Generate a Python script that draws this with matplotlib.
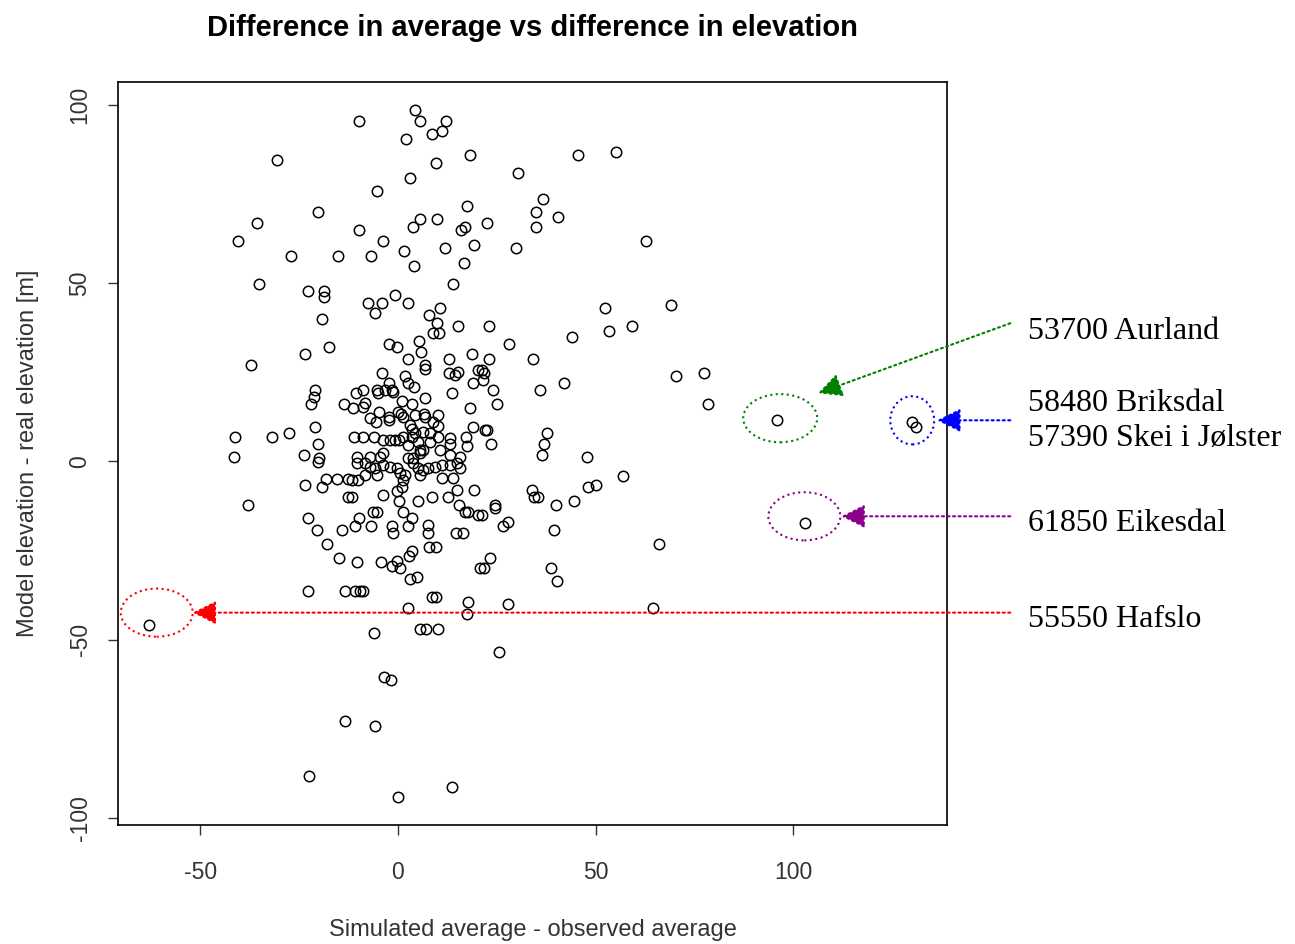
import matplotlib
matplotlib.use("Agg")
import matplotlib.pyplot as plt
from matplotlib.patches import Ellipse

#####################################################################################
## data: simulated - observed average (x) vs model - real elevation (y)

sim_diff = [
    4.3, 5.6, 12.2, -9.9, 11.1, 8.6, 2.0, -30.6, 18.2, 45.6, 55.2, 9.6, 3.0, 30.4, -5.3,
    36.7, 17.5, 34.9, -20.3, 40.5, 5.6, 9.9, 22.5, -35.7, 17.0, 15.9, 3.8, 34.9, -9.9, -40.5,
    -3.8, 62.8, 1.5, 11.9, 19.2, 29.9, -27.1, -15.2, -6.8, 16.7, 4.1, 13.9, -35.2,
    -22.8, -18.7, -18.7, -19.2, -17.5, -23.5, -37.2, -21.0, -21.3, -22.0, -13.7, -21.0, -41.3,
    -31.9, -27.6, -20.3, -41.5, -23.8, -20.0,
    -0.8, -7.6, -4.1, 2.5, -5.8, 10.6, 7.8, 9.9, 8.9, 10.4, 15.2, 5.3, -2.3, -0.3, 5.8, 2.5,
    6.8, 6.8, 12.9, 18.7, -4.1, 1.8, 12.9, 14.4, 15.2, 19.0, 20.3, 2.5, 4.1, -2.3, -10.6, -8.9,
    -5.3, -5.1, -3.3, -1.5, -1.3, 6.8, 13.7, -8.4, -8.9, -11.4, 1.0, 3.5, -7.1, -5.6, -4.8,
    -2.3, -2.3, 0.0, 0.8, 1.3, 4.3, 6.6, 6.8, 10.1, 18.2, 8.9, 10.1, 3.0, 3.5, 3.5, 4.3, 6.3,
    8.1, 19.0, -11.1, -8.9, -6.1, -3.8, -2.0, -0.8, 0.3, 1.3, 2.5, 5.1, 5.6, 6.3, 5.6, 8.1,
    10.1, 13.2, 13.2, 17.2, 17.5, 10.6, -3.8, -10.4, -7.1, -4.6, 2.5, 3.8, 13.2, 15.7,
    23.0, 28.1, 23.0, 21.3, 21.8, 21.5, 24.1, 25.1, 34.2, 35.9, 42.0, 44.1, 52.4, 53.4, 59.2,
    69.1, 70.4, 77.5, 78.5, 22.0, 22.5, 23.5, 37.7, 37.0, 36.5, 47.8,
    -23.5, -19.2, -18.2, -15.4, -12.7, -12.7, -38.0, -22.8, -20.5, -18.0, -14.9, -14.2, -22.8,
    -13.4, -20.3,
    -10.4, -8.4, -7.1, -5.8, -8.4, -5.3, -3.8, -2.0, -0.3, 0.5, 1.8, 3.8, 5.1, 5.6, 6.3, 7.6,
    9.4, 11.1, 13.2, 14.9, 15.7, 11.1, 13.9, -11.6, -10.1, 1.3, -11.6, -3.8, 0.3, -0.3, 1.0,
    5.1, 8.6, 12.7, 14.9, 19.2, 15.4, 17.0, 17.7, 20.3, -6.3, -5.3, -9.9, -10.9, -6.8, -1.5,
    -1.3, 1.3, 2.5, 3.5, 7.6, 7.6, 14.7, 16.5, 7.8, 9.6, 3.5, 2.8, -10.4, -4.3, -1.5, -0.3,
    0.5, 3.0, 4.8, 20.8, -10.9, -9.6, -8.9, 8.6, 9.6, 17.7, 2.5, 17.5, -6.1, 5.6, 7.1, 10.1,
    21.3, 24.6, 24.6, 26.6, 27.8, 33.9, 34.4, 35.4, 40.0, 39.5, 44.6, 48.1, 50.1, 57.0, 66.1,
    23.3, 21.8, 38.7, 40.3, 27.8, 64.6,
    25.6, -3.5, -1.8, -13.4, -5.8, -22.5, 0.0, 13.7,
]
elev_diff = [
    98.5, 95.4, 95.4, 95.4, 92.6, 91.7, 90.2, 84.4, 85.8, 85.8, 86.7, 83.6, 79.4, 80.8, 75.7,
    73.5, 71.5, 69.8, 69.8, 68.4, 67.9, 67.9, 66.8, 66.8, 65.6, 64.8, 65.6, 65.6, 64.8, 61.7,
    61.7, 61.7, 58.9, 59.7, 60.6, 59.7, 57.5, 57.5, 57.5, 55.5, 54.7, 49.6, 49.6,
    47.7, 47.7, 46.0, 39.8, 32.0, 30.0, 26.9, 19.9, 18.0, 16.0, 16.0, 9.5, 6.7,
    6.7, 7.9, 5.0, 1.1, 1.7, 0.8,
    46.6, 44.3, 44.3, 44.3, 41.5, 42.9, 41.0, 38.7, 35.9, 35.9, 37.9, 33.7, 32.8, 32.0, 30.6, 28.6,
    26.9, 25.8, 28.6, 30.0, 24.7, 23.8, 24.7, 24.1, 25.0, 21.9, 25.5, 21.9, 20.8, 21.9, 19.1, 19.9,
    19.9, 19.1, 19.9, 19.9, 19.4, 17.7, 19.1, 16.3, 15.1, 14.9, 16.8, 16.0, 12.1, 10.9, 13.7,
    12.3, 11.5, 13.7, 13.2, 12.3, 12.9, 13.2, 12.3, 12.9, 14.9, 10.9, 9.8, 10.1, 9.0, 6.7, 7.9, 8.1,
    7.9, 9.5, 6.7, 6.7, 6.7, 5.9, 5.9, 5.9, 5.9, 6.7, 4.5, 5.3, 3.1, 3.1, 2.2, 5.3,
    6.7, 6.5, 5.0, 6.7, 4.2, 3.1, 2.2, 1.1, 1.1, 1.1, 0.8, 0.8, 1.7, 1.1,
    37.9, 32.8, 28.6, 25.5, 24.7, 22.7, 19.9, 16.0, 28.6, 19.9, 21.9, 34.8, 42.9, 36.5, 37.9,
    43.8, 23.8, 24.7, 16.0, 8.7, 8.7, 5.0, 7.9, 5.0, 1.7, 1.1,
    -6.5, -7.3, -5.0, -5.0, -5.0, -10.1, -12.3, -16.0, -19.1, -23.3, -27.2, -19.1, -36.2,
    -36.2, -0.3,
    -0.6, -0.6, -1.7, -2.0, -3.9, -3.9, -1.1, -1.7, -2.0, -3.4, -3.9, -0.6, -2.0, -3.9, -2.5, -2.0,
    -1.7, -1.1, -1.1, -0.6, -2.0, -4.8, -4.8, -5.3, -5.3, -5.3, -10.1, -9.3, -11.2, -8.4, -7.3,
    -11.2, -10.1, -10.1, -8.1, -8.1, -12.1, -14.3, -14.3, -15.1, -14.3, -14.3, -16.0, -18.2, -18.2, -18.0,
    -20.2, -14.3, -18.2, -16.0, -17.7, -20.2, -20.2, -20.2, -24.1, -24.1, -25.0, -26.4, -28.1, -28.3, -29.2, -27.8,
    -30.0, -33.1, -32.3, -30.0, -36.2, -36.2, -36.2, -37.9, -37.9, -39.3, -41.2, -42.9, -48.0, -47.1, -47.1, -47.1,
    -14.9, -12.1, -13.2, -18.2, -17.1, -7.9, -10.1, -10.1, -12.3, -19.1, -11.2, -7.3, -6.5, -4.2, -23.3,
    -27.2, -30.0, -30.0, -33.4, -40.1, -41.2,
    -53.3, -60.3, -61.2, -72.9, -74.3, -88.1, -94.0, -91.2,
]

# stations singled out on the plot
station_labels = ["53700 Aurland", "58480 Briksdal\n57390 Skei i J\u00f8lster",
                  "61850 Eikesdal", "55550 Hafslo"]
station_x = [96.0, 130.1, 131.1, 103.0, -63.0]
station_y = [11.5, 10.9, 9.5, -17.4, -46.0]

#####################################################################################
## plot

plt.rcParams['font.family'] = ['Liberation Sans', 'DejaVu Sans']
plt.rcParams['axes.unicode_minus'] = False

fig = plt.figure(figsize=(12.95, 9.44), dpi=100)
ax = fig.add_axes([0.0911, 0.1261, 0.6402, 0.787])

ax.plot(sim_diff + station_x, elev_diff + station_y, 'o', ms=7.5, mfc='none',
        mec='black', mew=1.1, linestyle='none')

ax.set_xlim(-70.8, 138.9)
ax.set_ylim(-101.9, 106.3)
ax.set_xticks([-50, 0, 50, 100])
ax.set_yticks([-100, -50, 0, 50, 100])
ax.tick_params(direction='out', length=7, width=1, labelsize=16.5, color='#333333',
               labelcolor='#333333')
ax.tick_params(axis='x', pad=19)
ax.tick_params(axis='y', pad=12)
for lab in ax.get_yticklabels():
    lab.set_rotation(90)
    lab.set_va('center')
for s in ax.spines.values():
    s.set_linewidth(1.2)

ax.set_title("Difference in average vs difference in elevation", fontsize=21,
             fontweight='bold', pad=33, x=0.5)
ax.set_xlabel("Simulated average - observed average", fontsize=17, labelpad=25,
              color='#333333')
ax.set_ylabel("Model elevation - real elevation [m]", fontsize=17, labelpad=21,
              color='#333333')

## ellipses + arrows + labels
marks = [
    # ellipse centre, size, colour, arrow end, arrow start, text y
    ((96.7, 12.1), 18.7, 13.5, '#008000', (106.3, 19.1), (154.9, 38.7), 36.5),
    ((130.1, 11.5), 11.1, 13.5, '#0000ff', (136.4, 11.5), (154.9, 11.5), 11.3),
    ((102.8, -15.4), 18.2, 13.5, '#8b008b', (112.2, -15.4), (154.9, -15.4), -17.3),
    ((-61.0, -42.4), 18.2, 13.5, '#ff0000', (-51.9, -42.4), (154.9, -42.4), -44.2),
]
for (c, w, h, col, end, start, ty), lab in zip(marks, station_labels):
    ax.add_patch(Ellipse(c, w, h, fill=False, edgecolor=col, linestyle=':', lw=1.5,
                         clip_on=False))
    ax.annotate('', xy=end, xytext=start, annotation_clip=False,
                arrowprops=dict(arrowstyle='-|>', color=col, lw=1.5, linestyle=':',
                                mutation_scale=36, shrinkA=0, shrinkB=0))
    ax.text(159.5, ty, lab, fontsize=23, family=['Liberation Serif', 'DejaVu Serif'],
            va='center', ha='left', linespacing=1.3, clip_on=False)

fig.savefig("out.png", dpi=100)
